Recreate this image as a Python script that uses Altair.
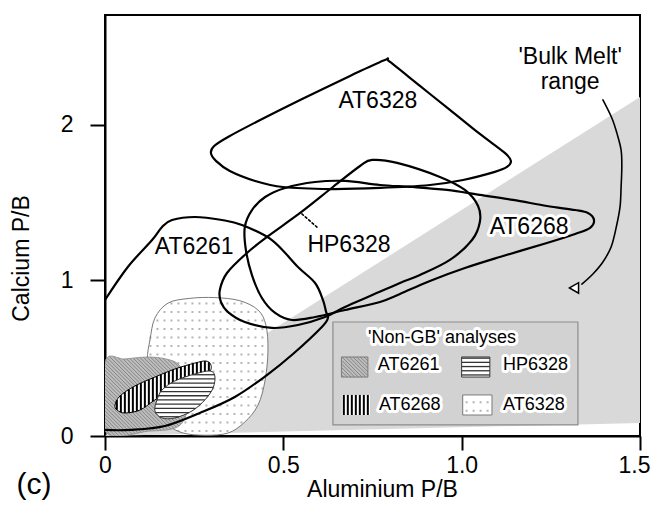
import altair as alt
import numpy as np
import pandas as pd

# ---------------- data ----------------
X_DOMAIN = [0, 1.5]
Y_DOMAIN = [0, 2.707]
x_ticks = [0, 0.5, 1.0, 1.5]
x_tick_labels = ["0", "0.5", "1.0", "1.5"]
y_ticks = [0, 1, 2]
y_tick_labels = ["0", "1", "2"]

# 'Bulk Melt' range wedge
wedge_x = [0.0, 1.5, 1.5]
wedge_y = [0.0, 2.18, 0.084]

# GB contours (outlines)
gb_at6328_x = [0.799, 0.883, 0.967, 1.051, 1.121, 1.138, 1.127, 1.093, 1.004, 0.911, 0.771, 0.631,
               0.499, 0.421, 0.350, 0.311, 0.297, 0.306, 0.345, 0.435, 0.547, 0.687, 0.785]
gb_at6328_y = [2.405, 2.251, 2.097, 1.942, 1.820, 1.769, 1.730, 1.698, 1.646, 1.614, 1.595, 1.588,
               1.601, 1.640, 1.704, 1.769, 1.820, 1.865, 1.923, 2.032, 2.161, 2.315, 2.418]

gb_at6261_x = [0.0, 0.064, 0.132, 0.160, 0.188, 0.252, 0.328, 0.384, 0.468, 0.541, 0.589, 0.611,
               0.620, 0.625, 0.608, 0.527, 0.454, 0.364, 0.266, 0.168, 0.070, 0.0]
gb_at6261_y = [0.875, 1.087, 1.260, 1.344, 1.389, 1.408, 1.389, 1.357, 1.260, 1.087, 0.984, 0.875,
               0.797, 0.759, 0.701, 0.527, 0.392, 0.251, 0.148, 0.064, 0.039, 0.039]

gb_at6268_x = [1.371, 1.354, 1.318, 1.239, 1.144, 1.051, 0.959, 0.863, 0.771, 0.673, 0.589, 0.505,
               0.449, 0.412, 0.392, 0.395, 0.412, 0.440, 0.477, 0.524, 0.589, 0.673, 0.771, 0.827,
               0.911, 1.009, 1.107, 1.239, 1.318, 1.360]
gb_at6268_y = [1.389, 1.434, 1.453, 1.479, 1.518, 1.550, 1.582, 1.601, 1.614, 1.640, 1.633, 1.595,
               1.537, 1.453, 1.344, 1.196, 1.035, 0.887, 0.791, 0.746, 0.765, 0.810, 0.862, 0.913,
               0.997, 1.080, 1.151, 1.241, 1.299, 1.338]

gb_hp6328_x = [0.749, 0.819, 0.939, 1.009, 1.046, 1.051, 1.029, 0.967, 0.883, 0.827, 0.743, 0.673,
               0.617, 0.541, 0.468, 0.392, 0.345, 0.325, 0.322, 0.342, 0.398, 0.454, 0.547, 0.639, 0.715]
gb_hp6328_y = [1.775, 1.756, 1.666, 1.582, 1.479, 1.376, 1.260, 1.132, 1.035, 0.984, 0.900, 0.830,
               0.765, 0.714, 0.695, 0.733, 0.797, 0.862, 0.939, 1.048, 1.177, 1.280, 1.434, 1.601, 1.736]

# Non-GB analyses (filled regions)
ngb_at6328_x = [0.118, 0.126, 0.140, 0.177, 0.238, 0.308, 0.378, 0.429, 0.451, 0.457, 0.449, 0.429,
                0.392, 0.345, 0.280, 0.219, 0.177, 0.140, 0.121]
ngb_at6328_y = [0.489, 0.617, 0.759, 0.855, 0.885, 0.890, 0.870, 0.810, 0.714, 0.553, 0.360, 0.199,
                0.090, 0.019, 0.005, 0.019, 0.071, 0.167, 0.328]

ngb_at6261_x = [0.0, 0.056, 0.126, 0.182, 0.210, 0.227, 0.233, 0.224, 0.196, 0.126, 0.0]
ngb_at6261_y = [0.476, 0.495, 0.508, 0.489, 0.450, 0.360, 0.232, 0.116, 0.051, 0.032, 0.032]

ngb_at6268_x = [0.028, 0.042, 0.084, 0.140, 0.196, 0.252, 0.283, 0.297, 0.292, 0.252, 0.196, 0.140,
                0.098, 0.056, 0.034]
ngb_at6268_y = [0.199, 0.257, 0.322, 0.379, 0.431, 0.469, 0.482, 0.457, 0.412, 0.373, 0.309, 0.232,
                0.167, 0.148, 0.167]

ngb_hp6328_x = [0.140, 0.146, 0.160, 0.196, 0.252, 0.294, 0.308, 0.303, 0.280, 0.244, 0.196, 0.160]
ngb_hp6328_y = [0.161, 0.232, 0.296, 0.354, 0.399, 0.418, 0.386, 0.309, 0.232, 0.161, 0.116, 0.116]

# HP6328 dotted leader, 'Bulk Melt' arrow
leader_x = [0.552, 0.597]
leader_y = [1.428, 1.338]
arrow_x = [1.396, 1.421, 1.435, 1.447, 1.449, 1.447, 1.444, 1.433, 1.419, 1.396, 1.368, 1.337]
arrow_y = [2.161, 2.045, 1.949, 1.839, 1.730, 1.601, 1.473, 1.338, 1.215, 1.119, 1.042, 0.977]
arrow_head = (1.315, 0.952)

# legend box and swatches
legend_box = ([0.639, 1.326], [0.071, 0.733])
sw_at6261 = ([0.664, 0.737], [0.379, 0.508])
sw_hp6328 = ([1.001, 1.079], [0.379, 0.508])
sw_at6268 = ([0.664, 0.743], [0.135, 0.264])
sw_at6328 = ([1.004, 1.085], [0.135, 0.264])

ann_halo_text = ["AT6328", "AT6261", "HP6328", "AT6268"]
ann_halo_x = [0.765, 0.250, 0.684, 1.189]
ann_halo_y = [2.154, 1.215, 1.228, 1.344]
ann_plain_text = ["'Bulk Melt'", "range"]
ann_plain_x = [1.304, 1.304]
ann_plain_y = [2.440, 2.278]

leg_text = ["AT6261", "HP6328", "AT6268", "AT6328"]
leg_x = [0.765, 1.116, 0.768, 1.116]
leg_y = [0.457, 0.457, 0.199, 0.199]
leg_title = ("'Non-GB' analyses", 0.945, 0.630)
panel_label = ("(c)", -0.199, -0.315)

# ---------------- drawing ----------------
W, H = 535, 421
PX_X = W / (X_DOMAIN[1] - X_DOMAIN[0])
PX_Y = H / (Y_DOMAIN[1] - Y_DOMAIN[0])
FONT = "Liberation Sans"

XS = alt.Scale(domain=X_DOMAIN, nice=False, zero=False)
YS = alt.Scale(domain=Y_DOMAIN, nice=False, zero=False)


def label_expr(vals, labs):
    return " : ".join(f"datum.value == {v} ? '{l}'" for v, l in zip(vals, labs)) + " : ''"


X_AXIS = alt.Axis(values=x_ticks, labelExpr=label_expr(x_ticks, x_tick_labels), grid=False,
                  domainColor="black", domainWidth=2, tickColor="black", tickWidth=2, tickSize=14,
                  labelFont=FONT, labelFontSize=23, labelColor="black", labelPadding=4,
                  labelOffset={"condition": {"test": f"datum.value == {x_ticks[-1]}", "value": -6},
                               "value": 0},
                  labelFlush=False, labelOverlap=False, title="Aluminium P/B", titleFont=FONT,
                  titleFontSize=23, titleFontWeight="normal", titleColor="black", titleX=277,
                  titleY=60, titleAlign="center", titleBaseline="alphabetic")
Y_AXIS = alt.Axis(values=y_ticks, labelExpr=label_expr(y_ticks, y_tick_labels), grid=False,
                  domainColor="black", domainWidth=2, tickColor="black", tickWidth=2, tickSize=15,
                  labelFont=FONT, labelFontSize=23, labelColor="black", labelPadding=17,
                  labelFlush=False, labelOverlap=False, title="Calcium P/B", titleFont=FONT,
                  titleFontSize=23, titleFontWeight="normal", titleColor="black", titleX=-84,
                  titleY=243, titleAlign="center", titleBaseline="middle", titleAngle=270)


def ax(field):
    return alt.X(field, scale=XS, axis=X_AXIS)


def ay(field):
    return alt.Y(field, scale=YS, axis=Y_AXIS)


def poly(xs, ys, fill="none", stroke="black", sw=1.0, interp="cardinal-closed", dash=None):
    df = pd.DataFrame({"x": xs, "y": ys, "i": np.arange(len(xs))})
    kw = dict(interpolate=interp, strokeWidth=sw, strokeJoin="round", strokeCap="round", clip=True)
    if fill != "none":
        kw["fill"] = fill
    if stroke is None:
        kw["stroke"] = "white"
        kw["strokeOpacity"] = 0
    else:
        kw["stroke"] = stroke
    if dash:
        kw["strokeDash"] = dash
    return alt.Chart(df).mark_line(**kw).encode(x=ax("x:Q"), y=ay("y:Q"), order="i:Q")


def rect_pts(r):
    (x0, x1), (y0, y1) = r
    return [x0, x1, x1, x0], [y0, y0, y1, y1]


def catmull(xs, ys, n=10):
    pts = np.column_stack([xs, ys]).astype(float)
    N = len(pts)
    out = []
    for k in range(N):
        p0, p1, p2, p3 = pts[(k - 1) % N], pts[k], pts[(k + 1) % N], pts[(k + 2) % N]
        for t in np.linspace(0, 1, n, endpoint=False):
            out.append(0.5 * (2 * p1 + (-p0 + p2) * t + (2 * p0 - 5 * p1 + 4 * p2 - p3) * t * t
                              + (-p0 + 3 * p1 - 3 * p2 + p3) * t ** 3))
    return np.array(out)


def scan(P, values, axis):
    Q = np.roll(P, -1, axis=0)
    other = 1 - axis
    segs = []
    for v in values:
        a, b = P[:, axis], Q[:, axis]
        m = ((a <= v) & (b > v)) | ((b <= v) & (a > v))
        t = (v - a[m]) / (b[m] - a[m])
        cs = np.sort(P[m, other] + t * (Q[m, other] - P[m, other]))
        for j in range(0, len(cs) - 1, 2):
            segs.append((cs[j], cs[j + 1], v))
    return segs


def hatch(P, spacing_px, axis, color, sw):
    if axis == 1:
        sp = spacing_px / PX_Y
        lo, hi = P[:, 1].min(), P[:, 1].max()
    else:
        sp = spacing_px / PX_X
        lo, hi = P[:, 0].min(), P[:, 0].max()
    vals = np.arange(lo + sp / 2, hi, sp)
    df = pd.DataFrame(scan(P, vals, axis), columns=["a", "b", "v"])
    if axis == 1:
        return alt.Chart(df).mark_rule(color=color, strokeWidth=sw, clip=True).encode(
            x=ax("a:Q"), x2="b:Q", y=ay("v:Q"))
    return alt.Chart(df).mark_rule(color=color, strokeWidth=sw, clip=True).encode(
        y=ay("a:Q"), y2="b:Q", x=ax("v:Q"))


def diag_hatch(P, spacing_px, color, sw):
    px, py = P[:, 0] * PX_X, P[:, 1] * PX_Y
    r = np.sqrt(2.0)
    S = np.column_stack([(px - py) / r, (px + py) / r])
    vals = np.arange(S[:, 1].min() + spacing_px / 2, S[:, 1].max(), spacing_px)
    rows = []
    for s1, s2, w in scan(S, vals, 1):
        x1, y1 = (s1 + w) / r, (w - s1) / r
        x2, y2 = (s2 + w) / r, (w - s2) / r
        rows.append((x1 / PX_X, y1 / PX_Y, x2 / PX_X, y2 / PX_Y))
    df = pd.DataFrame(rows, columns=["x", "y", "x2", "y2"])
    return alt.Chart(df).mark_rule(color=color, strokeWidth=sw, clip=True).encode(
        x=ax("x:Q"), y=ay("y:Q"), x2="x2:Q", y2="y2:Q")


def inside(P, x, y):
    Q = np.roll(P, -1, axis=0)
    c = False
    for (x1, y1), (x2, y2) in zip(P, Q):
        if (y1 > y) != (y2 > y):
            xi = x1 + (y - y1) * (x2 - x1) / (y2 - y1)
            if x < xi:
                c = not c
    return c


def dots(P, dxp=7.0, dyp=8.5):
    dx, dy = dxp / PX_X, dyp / PX_Y
    xs_ = np.arange(P[:, 0].min() + dx / 2, P[:, 0].max(), dx)
    ys_ = np.arange(P[:, 1].min() + dy / 2, P[:, 1].max(), dy)
    pts = [(x, y) for y in ys_ for x in xs_ if inside(P, x, y)]
    df = pd.DataFrame(pts, columns=["x", "y"])
    return alt.Chart(df).mark_square(size=4, color="#b4b4b4", opacity=1).encode(x=ax("x:Q"), y=ay("y:Q"))


layers = []
# bulk melt wedge
layers.append(poly(wedge_x, wedge_y, fill="#d9d9d9", stroke=None, sw=0, interp="linear-closed"))
# legend box
bx, by = rect_pts(legend_box)
layers.append(poly(bx, by, fill="#d2d2d2", stroke="#8c8c8c", sw=1.2, interp="linear-closed"))

# Non-GB AT6328 (dotted)
P = catmull(ngb_at6328_x, ngb_at6328_y)
layers.append(poly(ngb_at6328_x, ngb_at6328_y, fill="white", stroke=None, sw=0))
layers.append(dots(P))
layers.append(poly(ngb_at6328_x, ngb_at6328_y, stroke="#7a7a7a", sw=1.0))
# Non-GB AT6261 (grey diagonal hatch)
P = catmull(ngb_at6261_x, ngb_at6261_y)
layers.append(poly(ngb_at6261_x, ngb_at6261_y, fill="#bdbdbd", stroke=None, sw=0))
layers.append(diag_hatch(P, 2.6, "#777777", 0.8))
layers.append(poly(ngb_at6261_x, ngb_at6261_y, stroke="#8a8a8a", sw=0.8))
# Non-GB AT6268 (vertical stripes)
P = catmull(ngb_at6268_x, ngb_at6268_y)
layers.append(poly(ngb_at6268_x, ngb_at6268_y, fill="white", stroke=None, sw=0))
layers.append(hatch(P, 4.0, 0, "black", 2.0))
layers.append(poly(ngb_at6268_x, ngb_at6268_y, stroke="black", sw=1.0))
# Non-GB HP6328 (horizontal stripes)
P = catmull(ngb_hp6328_x, ngb_hp6328_y)
layers.append(poly(ngb_hp6328_x, ngb_hp6328_y, fill="white", stroke=None, sw=0))
layers.append(hatch(P, 4.2, 1, "#333333", 1.3))
layers.append(poly(ngb_hp6328_x, ngb_hp6328_y, stroke="#333333", sw=1.0))

# GB contours
for gx, gy in [(gb_at6328_x, gb_at6328_y), (gb_at6268_x, gb_at6268_y), (gb_hp6328_x, gb_hp6328_y)]:
    layers.append(poly(gx, gy, stroke="black", sw=2.2))
layers.append(poly(gb_at6261_x, gb_at6261_y, stroke="black", sw=2.2, interp="cardinal"))

# leader + arrow
layers.append(poly(leader_x, leader_y, stroke="black", sw=1.6, interp="linear", dash=[2, 2.5]))
layers.append(poly(arrow_x, arrow_y, stroke="black", sw=1.6, interp="cardinal"))
layers.append(alt.Chart(pd.DataFrame({"x": [arrow_head[0]], "y": [arrow_head[1]]})).mark_point(
    shape="triangle-left", size=110, filled=True, fill="white", stroke="black", strokeWidth=1.5,
    opacity=1).encode(x=ax("x:Q"), y=ay("y:Q")))

# legend swatches
sx, sy = rect_pts(sw_at6261)
layers.append(poly(sx, sy, fill="#bdbdbd", stroke=None, sw=0, interp="linear-closed"))
layers.append(diag_hatch(np.column_stack([sx, sy]), 2.6, "#777777", 0.8))
layers.append(poly(sx, sy, stroke="#7a7a7a", sw=1.0, interp="linear-closed"))
sx, sy = rect_pts(sw_hp6328)
layers.append(poly(sx, sy, fill="white", stroke=None, sw=0, interp="linear-closed"))
layers.append(hatch(np.column_stack([sx, sy]), 4.2, 1, "#333333", 1.3))
layers.append(poly(sx, sy, stroke="#333333", sw=1.0, interp="linear-closed"))
sx, sy = rect_pts(sw_at6268)
layers.append(poly(sx, sy, fill="white", stroke=None, sw=0, interp="linear-closed"))
layers.append(hatch(np.column_stack([sx, sy]), 4.0, 0, "black", 2.0))
sx, sy = rect_pts(sw_at6328)
layers.append(poly(sx, sy, fill="white", stroke=None, sw=0, interp="linear-closed"))
layers.append(dots(np.column_stack([sx, sy])))
layers.append(poly(sx, sy, stroke="#7a7a7a", sw=1.0, interp="linear-closed"))


def texts(df, size, align="center", halo=True):
    out = []
    base = alt.Chart(df)
    if halo:
        out.append(base.mark_text(font=FONT, fontSize=size, align=align, baseline="middle",
                                  fill="white", stroke="white", strokeWidth=6, strokeJoin="round").encode(
            text="t:N", x=ax("x:Q"), y=ay("y:Q")))
    out.append(base.mark_text(font=FONT, fontSize=size, align=align, baseline="middle",
                              color="black").encode(text="t:N", x=ax("x:Q"), y=ay("y:Q")))
    return out


layers += texts(pd.DataFrame({"x": ann_halo_x, "y": ann_halo_y, "t": ann_halo_text}), 23)
layers += texts(pd.DataFrame({"x": ann_plain_x, "y": ann_plain_y, "t": ann_plain_text}), 23, halo=False)
layers += texts(pd.DataFrame({"x": leg_x, "y": leg_y, "t": leg_text}), 18, align="left")
layers += texts(pd.DataFrame({"x": [leg_title[1]], "y": [leg_title[2]], "t": [leg_title[0]]}), 18)
layers += texts(pd.DataFrame({"x": [panel_label[1]], "y": [panel_label[2]], "t": [panel_label[0]]}), 30,
                halo=False)

chart = alt.layer(*layers).properties(
    width=W, height=H,
    autosize=alt.AutoSizeParams(type="none"),
    padding={"left": 97, "top": 7, "right": 11, "bottom": 64},
    background="white",
).configure_view(stroke="black", strokeWidth=2)

chart.save("out.html", embed_options={"renderer": "svg", "actions": False})
